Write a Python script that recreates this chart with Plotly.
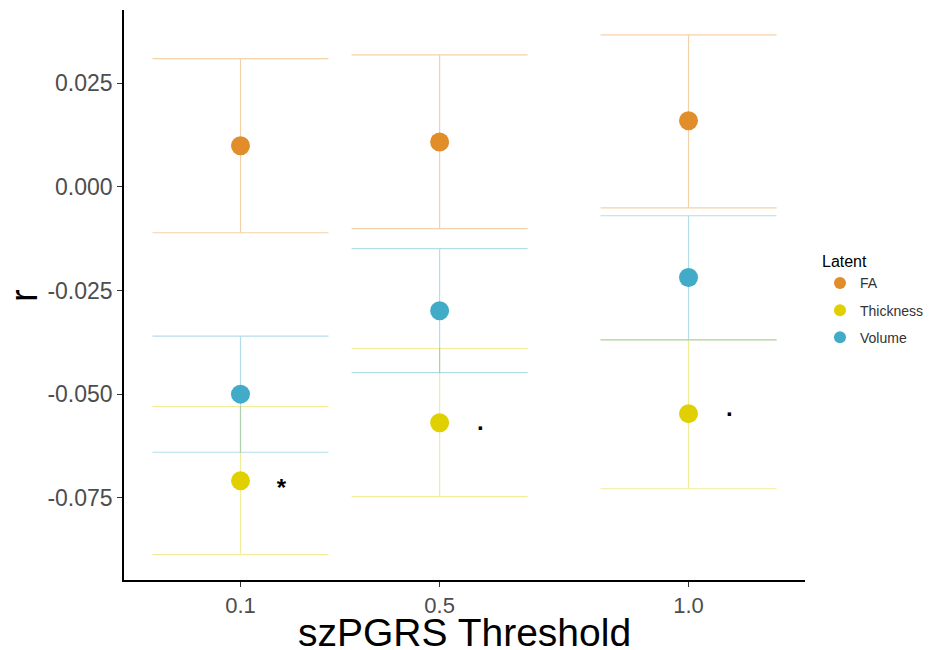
import plotly.graph_objects as go

thresholds = [0.1, 0.5, 1.0]
tick_labels = ["0.1", "0.5", "1.0"]
latents = ["FA", "Thickness", "Volume"]
colors = {"FA": "#E08D2A", "Thickness": "#E1D000", "Volume": "#42ABC8"}
bar_colors = {"FA": "rgba(224,141,42,0.4)", "Thickness": "rgba(225,208,0,0.4)",
              "Volume": "rgba(66,171,200,0.4)"}

r_values = {
    "FA": [0.0099, 0.0108, 0.0159],
    "Thickness": [-0.0709, -0.0569, -0.0547],
    "Volume": [-0.0500, -0.0299, -0.0219],
}
ci_low = {
    "FA": [-0.0111, -0.0101, -0.0051],
    "Thickness": [-0.0887, -0.0747, -0.0728],
    "Volume": [-0.0640, -0.0448, -0.0369],
}
ci_high = {
    "FA": [0.0309, 0.0318, 0.0366],
    "Thickness": [-0.0530, -0.0390, -0.0369],
    "Volume": [-0.0360, -0.0149, -0.0070],
}
sig_labels = ["*", ".", "."]
sig_y = [-0.0730, -0.0572, -0.0537]
sig_offset = 0.082

fig = go.Figure()
for lat in latents:
    v = r_values[lat]
    fig.add_trace(go.Scatter(
        x=thresholds, y=v, mode="markers", name=lat, legendgroup=lat,
        marker=dict(color=colors[lat], size=19),
        error_y=dict(type="data", symmetric=False,
                     array=[h - m for h, m in zip(ci_high[lat], v)],
                     arrayminus=[m - l for l, m in zip(ci_low[lat], v)],
                     color=bar_colors[lat], thickness=1.2, width=88),
    ))

fig.add_trace(go.Scatter(
    x=[t + sig_offset for t in thresholds], y=sig_y, mode="text",
    text=sig_labels, showlegend=False,
    textfont=dict(size=24, color="black", family="Liberation Sans, Arial",
                  weight="bold"),
    textposition="middle center",
))

# the page body adds an 8px offset, so the figure is 8px smaller and shifted
fig.update_layout(
    width=925, height=642,
    paper_bgcolor="white", plot_bgcolor="white",
    margin=dict(l=116, r=128, t=2, b=70, autoexpand=False),
    font=dict(family="Liberation Sans, Arial, sans-serif"),
    legend=dict(title=dict(text="Latent", font=dict(size=16, color="black")),
                font=dict(size=14, color="#333333"),
                x=1.022, xanchor="left", y=0.585, yanchor="top",
                itemsizing="constant", tracegroupgap=6, traceorder="grouped"),
    xaxis=dict(range=[-0.134, 1.234], tickvals=thresholds, ticktext=tick_labels,
               showgrid=False, zeroline=False, showline=True, linecolor="black",
               linewidth=1.5, ticks="outside", ticklen=5, tickcolor="#333333",
               tickfont=dict(size=22, color="#4D4D4D"), automargin=False),
    yaxis=dict(range=[-0.0948, 0.0426], tickvals=[0.025, 0.0, -0.025, -0.05, -0.075],
               ticktext=["0.025", "0.000", "-0.025", "-0.050", "-0.075"],
               showgrid=False, zeroline=False, showline=True, linecolor="black",
               linewidth=1.5, ticks="outside", ticklen=5, tickcolor="#333333",
               tickfont=dict(size=23, color="#4D4D4D"), automargin=False),
    annotations=[
        dict(text="szPGRS Threshold", xref="paper", yref="paper", x=0.5, y=-0.051,
             xanchor="center", yanchor="top", showarrow=False,
             font=dict(size=39, color="black")),
        dict(text="r", xref="paper", yref="paper", x=-0.147, y=0.5,
             xanchor="center", yanchor="middle", showarrow=False, textangle=-90,
             font=dict(size=38, color="black")),
    ],
)

fig.write_html("out.html")
